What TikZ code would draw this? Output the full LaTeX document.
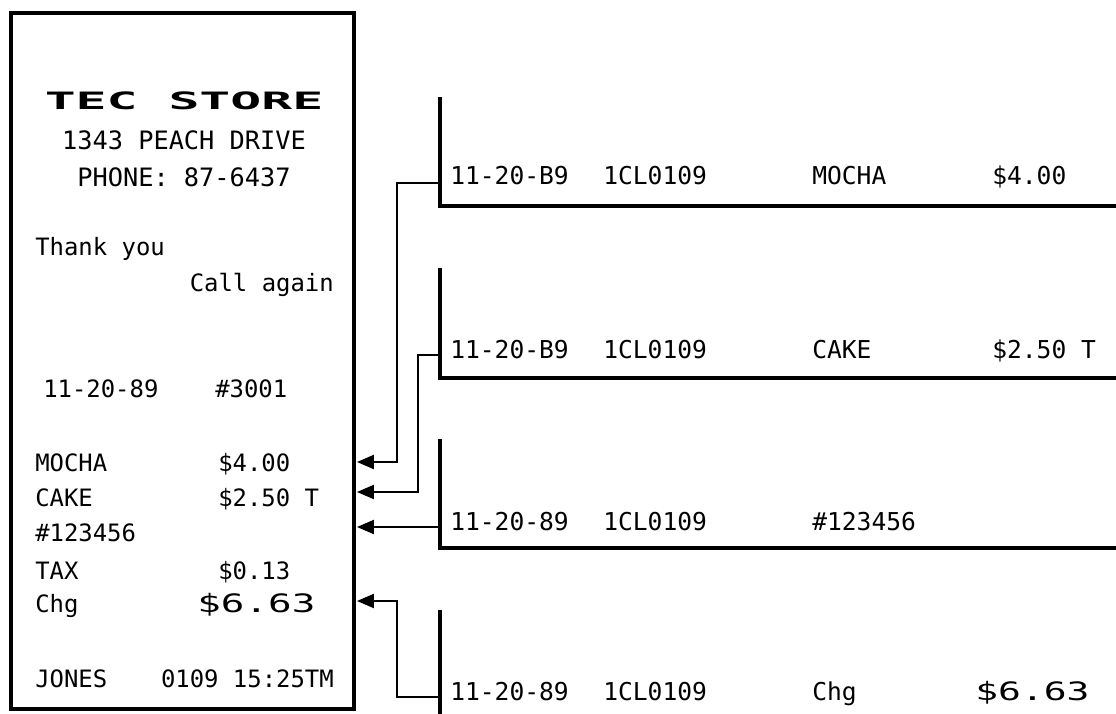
\documentclass[tikz,border=0pt]{standalone}
\usepackage{fontspec}
\usepackage{tikz}
\usetikzlibrary{arrows.meta,fit}
\newfontfamily\dotfont{DejaVu Sans Mono}
\tikzset{
  rcpt/.style={draw,line width=2.4pt,inner sep=0pt},
  logo/.style={anchor=base,inner sep=0pt,font=\dotfont\bfseries\fontsize{17}{19}\selectfont},
  rhead/.style={anchor=base,inner sep=0pt,font=\dotfont\fontsize{18}{20}\selectfont},
  rtxt/.style={anchor=base west,inner sep=0pt,font=\dotfont\fontsize{17}{19}\selectfont},
  stxt/.style={anchor=base west,inner sep=0pt,font=\dotfont\fontsize{17.5}{20}\selectfont},
  total/.style={anchor=base west,inner sep=0pt,font=\dotfont\fontsize{18}{20}\selectfont},
  slip/.style={line width=2.8pt},
  fl/.style={-{Triangle[length=12pt,width=10pt]},line width=1.3pt},
}

\begin{document}
\begin{tikzpicture}[x=0.025cm,y=-0.025cm]
  \useasboundingbox (0,0) rectangle (1116,714);
  % receipt
  \coordinate (rnw) at (11,13);
  \coordinate (rse) at (354,709);
  \node[rcpt,fit=(rnw)(rse)] (rcpt) {};
  \node[logo] (store) at (184,110) {\scalebox{2.15}[1]{TEC STORE}};
  \node[rhead] (addr) at (184,150) {1343 PEACH DRIVE};
  \node[rhead] (phone) at (184,187) {PHONE: 87-6437};
  \node[rtxt] (thx) at (35,256) {Thank you};
  \node[rtxt,anchor=base east] (again) at (334,292) {Call again};
  \node[rtxt] (rdate) at (43,397) {11-20-89};
  \node[rtxt] (rno) at (215,397) {\#3001};
  \node[rtxt] (m1) at (35,471) {MOCHA};
  \node[rtxt] (p1) at (218,471) {\$4.00};
  \node[rtxt] (m2) at (35,506) {CAKE};
  \node[rtxt] (p2) at (218,506) {\$2.50 T};
  \node[rtxt] (m3) at (35,541) {\#123456};
  \node[rtxt] (m4) at (35,579) {TAX};
  \node[rtxt] (p4) at (218,579) {\$0.13};
  \node[rtxt] (m5) at (35,612) {Chg};
  \node[total] (p5) at (197,612) {\scalebox{1.55}[1]{\$6.63}};
  \node[rtxt] (clerk) at (35,687) {JONES};
  \node[rtxt,anchor=base east] (time) at (334,687) {0109 15:25TM};

  % journal slips
  \foreach \top/\bot in {97/206,268/378,439/548}
    \draw[slip] (440,\top) -- (440,\bot) -- (1116,\bot);
  \draw[slip] (440,610) -- (440,714);

  \node[stxt] (d1) at (450,185) {11-20-B9};
  \node[stxt] (c1) at (603,185) {1CL0109};
  \node[stxt] (i1) at (812,185) {MOCHA};
  \node[stxt] (a1) at (992,185) {\$4.00};
  \node[stxt] (d2) at (450,358) {11-20-B9};
  \node[stxt] (c2) at (603,358) {1CL0109};
  \node[stxt] (i2) at (812,358) {CAKE};
  \node[stxt] (a2) at (992,358) {\$2.50 T};
  \node[stxt] (d3) at (450,530) {11-20-89};
  \node[stxt] (c3) at (603,530) {1CL0109};
  \node[stxt] (i3) at (812,530) {\#123456};
  \node[stxt] (d4) at (450,700) {11-20-89};
  \node[stxt] (c4) at (603,700) {1CL0109};
  \node[stxt] (i4) at (812,700) {Chg};
  \node[total] (a4) at (975,700) {\scalebox{1.5}[1]{\$6.63}};

  % links slip -> receipt line
  \coordinate (o1) at (440,183); \coordinate (r1) at (357,462);
  \coordinate (o2) at (440,355); \coordinate (r2) at (357,492);
  \coordinate (o3) at (440,527); \coordinate (r3) at (357,527);
  \coordinate (o4) at (440,697); \coordinate (r4) at (357,601);
  \draw[fl] (o1) -- ++(-43,0) |- (r1);
  \draw[fl] (o2) -- ++(-22,0) |- (r2);
  \draw[fl] (o3) -- (r3);
  \draw[fl] (o4) -- ++(-43,0) |- (r4);
\end{tikzpicture}
\end{document}
